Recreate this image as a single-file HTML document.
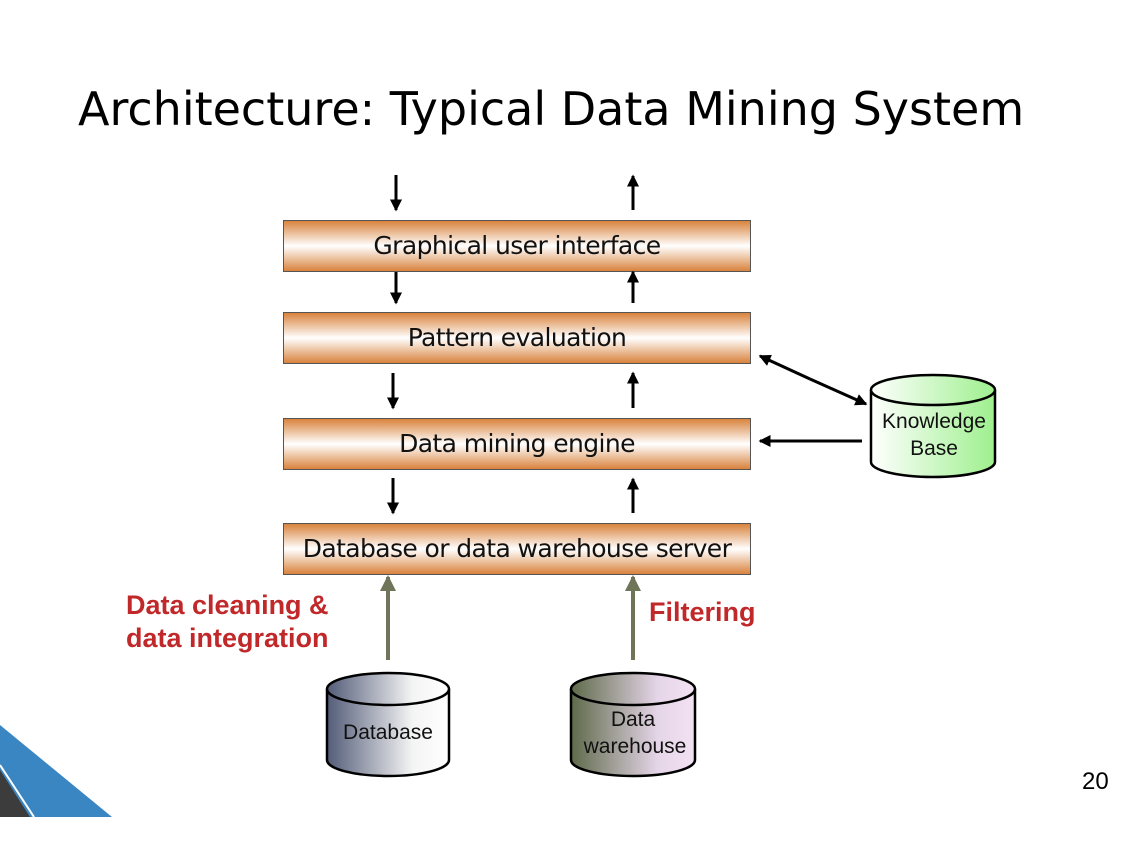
<!DOCTYPE html>
<html><head><style>
body{margin:0;width:1146px;height:868px;background:#fff;overflow:hidden;font-family:"Liberation Sans",sans-serif;position:relative}
.t{position:absolute;left:78px;top:82px;font-size:46px;color:#000;font-family:"DejaVu Sans","Liberation Sans",sans-serif;letter-spacing:0px}
.b{position:absolute;left:283px;width:466px;height:50px;border:1px solid #555;background:linear-gradient(#d9833d,#fff 50%,#d9833d);text-align:center;line-height:50px;font-size:25px;font-family:"DejaVu Sans",sans-serif;color:#111;letter-spacing:-0.6px}
.r{position:absolute;color:#c0282a;font-weight:bold;font-size:27px;line-height:33px}
</style></head><body>
<div class="t">Architecture: Typical Data Mining System</div>
<div class="b" style="top:220px">Graphical user interface</div>
<div class="b" style="top:312px">Pattern evaluation</div>
<div class="b" style="top:418px">Data mining engine</div>
<div class="b" style="top:523px">Database or data warehouse server</div>
<div class="r" style="left:126px;top:589px">Data cleaning &amp;<br>data integration</div>
<div class="r" style="left:649px;top:596px">Filtering</div>
<div style="position:absolute;left:1082px;top:768px;font-size:24px">20</div>
<svg width="1146" height="868" style="position:absolute;left:0;top:0">
<defs>
<marker id="a" markerWidth="4" markerHeight="4" refX="3.5" refY="2" orient="auto" markerUnits="strokeWidth"><path d="M0,0L4,2L0,4z" fill="#000"/></marker>
<marker id="g" markerWidth="4" markerHeight="4" refX="3.5" refY="2" orient="auto" markerUnits="strokeWidth"><path d="M0,0L4,2L0,4z" fill="#6f7558"/></marker>
<linearGradient id="kb"><stop offset="0" stop-color="#fff"/><stop offset="1" stop-color="#9ef08e"/></linearGradient>
<linearGradient id="db"><stop offset="0" stop-color="#535c78"/><stop offset="0.7" stop-color="#f4f4f4"/><stop offset="1" stop-color="#fff"/></linearGradient>
<linearGradient id="dw"><stop offset="0" stop-color="#5e6a4a"/><stop offset="0.7" stop-color="#e5d5e8"/><stop offset="1" stop-color="#f2e2f2"/></linearGradient>
</defs>
<g stroke="#000" stroke-width="3" fill="none" marker-end="url(#a)">
<line x1="396" y1="175" x2="396" y2="210"/><line x1="633" y1="210" x2="633" y2="176"/>
<line x1="396" y1="272" x2="396" y2="303"/><line x1="633" y1="303" x2="633" y2="272"/>
<line x1="393" y1="373" x2="393" y2="408"/><line x1="633" y1="408" x2="633" y2="373"/>
<line x1="393" y1="478" x2="393" y2="513"/><line x1="633" y1="513" x2="633" y2="479"/>
<line x1="862" y1="441" x2="760" y2="441"/>
<line x1="810" y1="379" x2="760" y2="356"/><line x1="810" y1="379" x2="866" y2="404"/>
</g>
<g stroke="#6f7558" stroke-width="4" marker-end="url(#g)">
<line x1="388" y1="660" x2="388" y2="577"/><line x1="633" y1="660" x2="633" y2="577"/>
</g>
<g stroke="#000" stroke-width="2.5">
<path d="M871,390 V462 A62,15 0 0 0 995,462 V390" fill="url(#kb)"/>
<ellipse cx="933" cy="390" rx="62" ry="15" fill="url(#kb)"/>
<path d="M327,689 V760 A61,16 0 0 0 449,760 V689" fill="url(#db)"/>
<ellipse cx="388" cy="689" rx="61" ry="16" fill="url(#db)"/>
<path d="M571,689 V760 A62,16 0 0 0 695,760 V689" fill="url(#dw)"/>
<ellipse cx="633" cy="689" rx="62" ry="16" fill="url(#dw)"/>
</g>
<g font-family="Liberation Sans" font-size="21" fill="#111" text-anchor="middle">
<text x="934" y="428">Knowledge</text><text x="934" y="455">Base</text>
<text x="388" y="739">Database</text>
<text x="633" y="726">Data</text><text x="635" y="753">warehouse</text>
</g>
<polygon points="0,725 112,817 0,817" fill="#3a86c3"/>
<polygon points="0,770 30,817 0,817" fill="#3c3c3c"/>
<line x1="0" y1="765" x2="34" y2="817" stroke="#fff" stroke-width="2"/>
</svg>
</body></html>
